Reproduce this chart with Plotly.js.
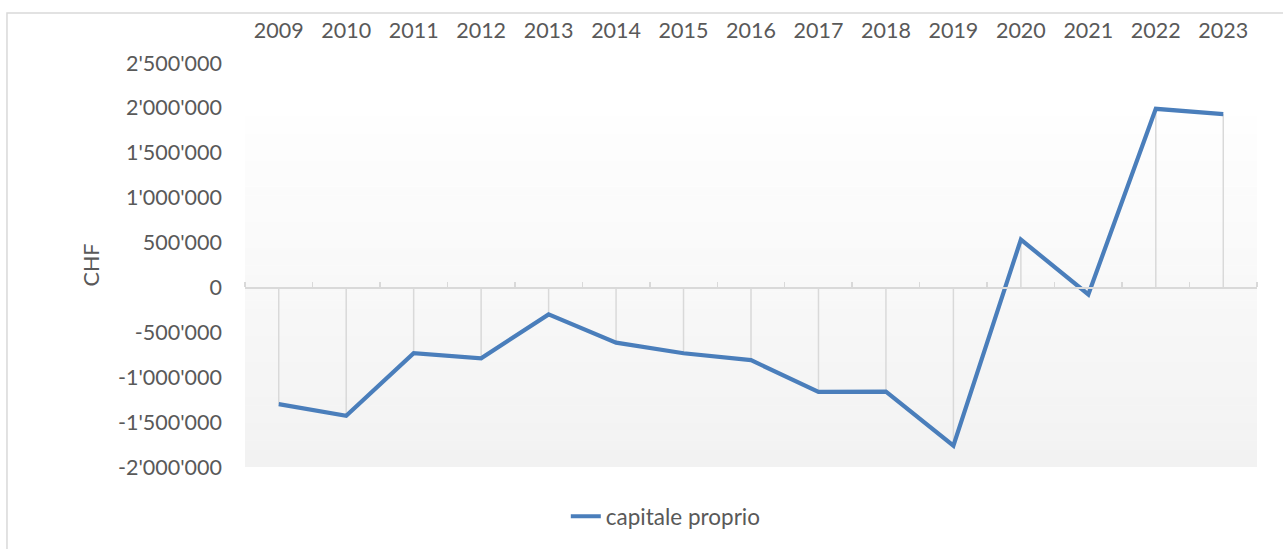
<!DOCTYPE html>
<html>
<head>
<meta charset="utf-8">
<script src="https://cdn.plot.ly/plotly-3.0.1.min.js"></script>
<style>html,body{margin:0;padding:0;background:#fff;}#chart{width:1283px;height:549px;}</style>
</head>
<body>
<div id="chart"></div>
<script>
const years = ['2009','2010','2011','2012','2013','2014','2015','2016','2017','2018','2019','2020','2021','2022','2023'];
const equity = [-1300000, -1430000, -733000, -790000, -300000, -615000, -733000, -810000, -1163000, -1160000, -1763000, 533000, -78000, 1990000, 1930000];
const yTickVals = [-2000000, -1500000, -1000000, -500000, 0, 500000, 1000000, 1500000, 2000000, 2500000];
const yTickText = ["-2'000'000", "-1'500'000", "-1'000'000", "-500'000", "0", "500'000", "1'000'000", "1'500'000", "2'000'000", "2'500'000"];
const seriesName = 'capitale proprio';
const yTitle = 'CHF';

const yMin = -2000000, yMax = 2500000;
const zeroFrac = (0 - yMin) / (yMax - yMin);

// drop lines built from the data
const dx = [], dy = [];
years.forEach((yr, i) => { dx.push(yr, yr, null); dy.push(0, equity[i], null); });

const font = 'Lato, "Open Sans", sans-serif';
const txt = '#595959';

// gradient background stripes (style only)
const shapes = [];
const gTop = 0.867, n = 40;
for (let k = 0; k < n; k++) {
  const y0 = gTop * k / n, y1 = gTop * (k + 1) / n;
  const t = (k + 0.5) / n; // 0 bottom -> 1 top
  const c = Math.round(242 + (254 - 242) * t);
  shapes.push({type:'rect', xref:'paper', yref:'paper', x0:0, x1:1, y0:y0, y1:y1 + 0.001,
    fillcolor:`rgb(${c},${c},${c})`, line:{width:0}, layer:'below'});
}
// chart border
shapes.push({type:'rect', xref:'paper', yref:'paper', x0:-0.2352, x1:1.2, y0:-0.4, y1:1.1235,
  fillcolor:'rgba(0,0,0,0)', line:{color:'#d9d9d9', width:1.5}, layer:'below'});

const traces = [
  {x: dx, y: dy, xaxis:'x', yaxis:'y', mode:'lines', line:{color:'#d9d9d9', width:1.5},
   showlegend:false, hoverinfo:'skip', connectgaps:false},
  {x: years, y: equity, xaxis:'x2', yaxis:'y', mode:'lines', name: seriesName,
   line:{color:'#4a7ebb', width:4.2}}
];

const layout = {
  width:1283, height:549,
  margin:{l:245, r:26, t:63, b:81},
  paper_bgcolor:'#ffffff', plot_bgcolor:'rgba(0,0,0,0)',
  font:{family:font, color:txt, size:21.5},
  showlegend:true,
  legend:{orientation:'h', x:0.317, xanchor:'left', y:-0.12, yanchor:'middle',
    font:{family:font, color:txt, size:22.5}, bgcolor:'rgba(0,0,0,0)'},
  xaxis:{type:'category', side:'top', range:[-0.5,14.5], showgrid:false, showline:false,
    zeroline:false, ticks:'', ticklabelstandoff:20, tickfont:{family:font, color:txt, size:21.5}},
  xaxis2:{type:'category', overlaying:'x', anchor:'free', position:zeroFrac, side:'top',
    range:[-0.5,14.5], showgrid:false, showline:true, linecolor:'#d9d9d9', linewidth:1.5,
    ticks:'outside', ticklen:5, tickwidth:1.5, tickcolor:'#d9d9d9', tickson:'boundaries',
    showticklabels:false, zeroline:false},
  yaxis:{range:[yMin, yMax], showgrid:false, zeroline:false, showline:false, ticks:'',
    tickvals:yTickVals, ticktext:yTickText, ticklabelstandoff:22,
    tickfont:{family:font, color:txt, size:21.5},
    title:{text:yTitle, font:{family:font, color:txt, size:21.5}, standoff:12}},
  shapes: shapes
};

Plotly.newPlot('chart', traces, layout, {staticPlot:true, displayModeBar:false});
</script>
</body>
</html>
